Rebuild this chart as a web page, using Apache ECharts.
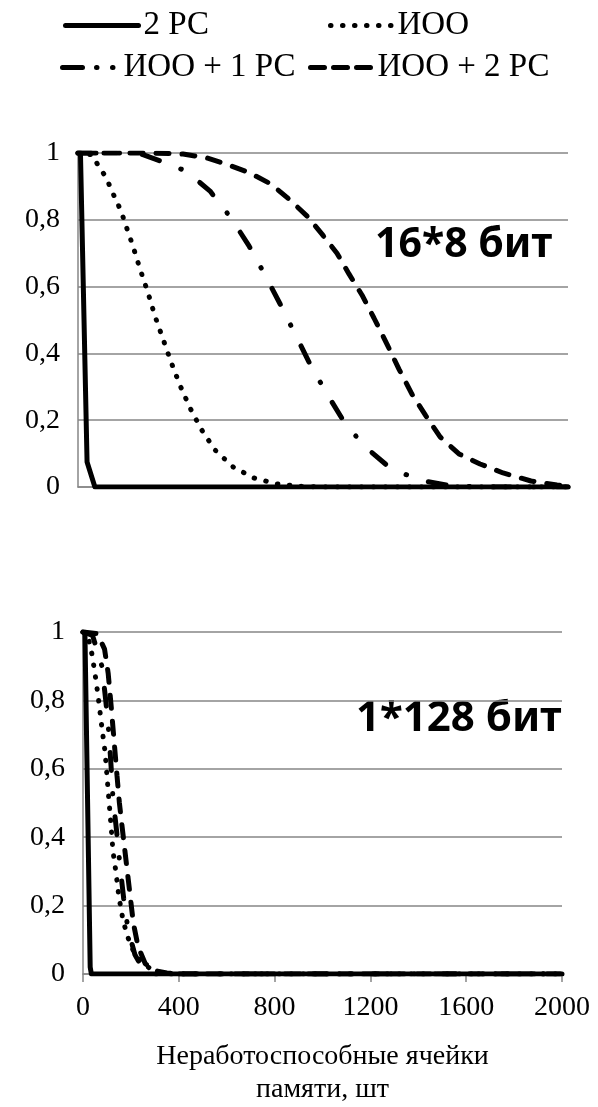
<!DOCTYPE html>
<html>
<head>
<meta charset="utf-8">
<script src="https://cdn.jsdelivr.net/npm/echarts@6/dist/echarts.min.js"></script>
<style>
  html, body { margin: 0; padding: 0; background: #fff; }
  #chart { width: 598px; height: 1107px; }
</style>
</head>
<body>
<div id="chart"></div>
<script>
// names of the four curves
const seriesNames = ['2 РС', 'ИОО', 'ИОО + 1 РС', 'ИОО + 2 РС'];
const panelTitles = ['16*8 бит', '1*128 бит'];
const yTickLabels = ['0', '0,2', '0,4', '0,6', '0,8', '1'];
const xTickLabels = ['0', '400', '800', '1200', '1600', '2000'];

// upper panel, 16*8 бит  [failed cells, probability]
const top2RS = [[10, 1], [37, 0.075], [69, 0], [2000, 0]];
const topIOO = [[0, 1], [57, 0.995], [86, 0.958], [114, 0.928], [135, 0.892], [155, 0.859], [176, 0.826],
  [192, 0.79], [224, 0.722], [253, 0.653], [286, 0.581], [314, 0.512], [347, 0.443], [380, 0.374],
  [416, 0.305], [457, 0.237], [502, 0.174], [559, 0.111], [633, 0.06], [718, 0.027], [812, 0.009],
  [906, 0.002], [1000, 0], [2000, 0]];
const topIOO1 = [[0, 1], [200, 1], [265, 0.995], [347, 0.973], [441, 0.946], [539, 0.886], [625, 0.805],
  [698, 0.722], [763, 0.635], [825, 0.548], [886, 0.458], [947, 0.368], [1012, 0.284], [1082, 0.2],
  [1167, 0.123], [1274, 0.057], [1392, 0.021], [1518, 0.004], [1650, 0], [2000, 0]];
const topIOO2 = [[0, 1], [300, 1], [429, 0.997], [527, 0.985], [616, 0.964], [702, 0.94], [788, 0.907],
  [861, 0.862], [935, 0.811], [996, 0.757], [1057, 0.7], [1106, 0.638], [1159, 0.575], [1208, 0.506],
  [1261, 0.428], [1310, 0.353], [1363, 0.278], [1420, 0.213], [1478, 0.15], [1555, 0.099],
  [1641, 0.069], [1735, 0.042], [1849, 0.018], [1955, 0.006], [2000, 0.004]];

// lower panel, 1*128 бит
const bot2RS = [[8, 1], [30, 0.02], [35, 0], [2000, 0]];
const botIOO = [[0, 1], [20, 0.99], [38, 0.933], [54, 0.86], [67, 0.79], [79, 0.72], [92, 0.65],
  [100, 0.58], [108, 0.51], [117, 0.435], [125, 0.36], [138, 0.295], [150, 0.225], [167, 0.158],
  [184, 0.114], [204, 0.076], [230, 0.047], [259, 0.026], [300, 0.008], [360, 0], [2000, 0]];
const botIOO1 = [[0, 1], [40, 0.99], [79, 0.9], [95, 0.8], [108, 0.705], [117, 0.61], [125, 0.515],
  [140, 0.42], [154, 0.32], [170, 0.22], [188, 0.13], [217, 0.056], [250, 0.015], [300, 0], [2000, 0]];
const botIOO2 = [[0, 1], [60, 0.995], [90, 0.95], [105, 0.88], [118, 0.78], [130, 0.68], [142, 0.58],
  [152, 0.5], [165, 0.42], [180, 0.33], [195, 0.24], [210, 0.15], [230, 0.08], [260, 0.03],
  [300, 0.01], [350, 0.003], [400, 0], [2000, 0]];

const serif = '"Liberation Serif", "DejaVu Serif", serif';
const sans = '"Noto Sans", "Open Sans", sans-serif';
const gridGrey = '#868686';

// line looks: solid, round dots, dash-dot, dash
const styles = [
  { type: 'solid', width: 5, color: '#000', cap: 'round', join: 'round' },
  { type: [0.5, 11.5], width: 5, color: '#000', cap: 'round' },
  { type: [18, 23, 0.5, 23], width: 5, color: '#000', cap: 'round' },
  { type: [13, 13], width: 5, color: '#000', cap: 'round' }
];
// legend samples are short, Excel draws them a bit differently
const legendLines = [
  { width: 5, type: 'solid' },
  { width: 5, type: [0.5, 11.5] },
  { width: 5, type: [20, 14, 0.5, 15.5, 0.5, 30] },
  { width: 5, type: [14, 9] }
];

function makeSeries(name, data, idx, styleIdx) {
  return {
    name: name,
    type: 'line',
    xAxisIndex: idx,
    yAxisIndex: idx,
    data: data,
    symbol: 'none',
    color: '#000',
    lineStyle: styles[styleIdx]
  };
}

function yAxisFor(idx) {
  return {
    gridIndex: idx,
    type: 'value',
    min: 0,
    max: 1,
    interval: 0.2,
    axisLine: { show: true, lineStyle: { color: gridGrey, width: 1.5 } },
    axisTick: { show: false },
    splitLine: { lineStyle: { color: gridGrey, width: 1.5 } },
    axisLabel: {
      margin: 18,
      color: '#000',
      fontFamily: serif,
      fontSize: 28,
      formatter: (v) => yTickLabels[Math.round(v * 5)]
    }
  };
}

function legendItem(i, left, top, width) {
  return {
    data: [seriesNames[i]],
    left: left,
    top: top,
    padding: 0,
    itemWidth: width,
    itemHeight: 14,
    itemGap: 0,
    itemTextGap: 3,
    itemStyle: { opacity: 0 },
    lineStyle: Object.assign({ cap: 'round', color: '#000' }, legendLines[i]),
    textStyle: { fontFamily: serif, fontSize: 33, color: '#000' },
    selectedMode: false
  };
}

const chart = echarts.init(document.getElementById('chart'));
chart.setOption({
  backgroundColor: '#fff',
  animation: false,
  legend: [
    legendItem(0, 63, 9, 73),
    legendItem(1, 328, 9, 62),
    legendItem(2, 60, 51, 56),
    legendItem(3, 308, 51, 62)
  ],
  grid: [
    { left: 78, top: 153, width: 490, height: 334, outerBoundsMode: 'none', containLabel: false },
    { left: 83, top: 632, width: 479, height: 342, outerBoundsMode: 'none', containLabel: false }
  ],
  xAxis: [
    {
      gridIndex: 0, type: 'value', min: 0, max: 2000, interval: 400,
      axisLine: { show: true, lineStyle: { color: gridGrey, width: 1.5 } },
      axisTick: { show: false }, axisLabel: { show: false }, splitLine: { show: false }
    },
    {
      gridIndex: 1, type: 'value', min: 0, max: 2000, interval: 400,
      axisLine: { show: true, lineStyle: { color: gridGrey, width: 1.5 } },
      axisTick: { show: true, length: 8, lineStyle: { color: gridGrey, width: 1.5 } },
      splitLine: { show: false },
      axisLabel: {
        margin: 20, color: '#000', fontFamily: serif, fontSize: 28,
        formatter: (v) => xTickLabels[Math.round(v / 400)]
      },
      name: 'Неработоспособные ячейки\nпамяти, шт',
      nameLocation: 'middle',
      nameGap: 66,
      nameTextStyle: { fontFamily: serif, fontSize: 28, color: '#000', lineHeight: 33 }
    }
  ],
  yAxis: [yAxisFor(0), yAxisFor(1)],
  graphic: [
    {
      type: 'text', left: 375, top: 225,
      style: { text: panelTitles[0], fontFamily: sans, fontWeight: 'bold', fontSize: 41, fill: '#000' }
    },
    {
      type: 'text', left: 356, top: 698,
      style: { text: panelTitles[1], fontFamily: sans, fontWeight: 'bold', fontSize: 42, fill: '#000' }
    }
  ],
  series: [
    makeSeries(seriesNames[0], top2RS, 0, 0),
    makeSeries(seriesNames[1], topIOO, 0, 1),
    makeSeries(seriesNames[2], topIOO1, 0, 2),
    makeSeries(seriesNames[3], topIOO2, 0, 3),
    makeSeries(seriesNames[0], bot2RS, 1, 0),
    makeSeries(seriesNames[1], botIOO, 1, 1),
    makeSeries(seriesNames[2], botIOO1, 1, 2),
    makeSeries(seriesNames[3], botIOO2, 1, 3)
  ]
});
</script>
</body>
</html>
